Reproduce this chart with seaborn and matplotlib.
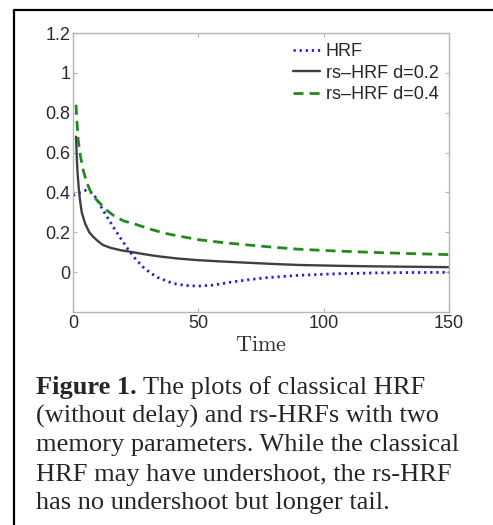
import numpy as np
import seaborn as sns
import matplotlib.pyplot as plt
from matplotlib.lines import Line2D

# values
t_hrf = [0, 2, 5, 8, 10, 12, 16, 19, 22, 25, 28, 31, 34, 40, 45, 50, 56, 63, 70, 77, 90, 105, 120, 135, 150]
hrf = [0.385, 0.395, 0.41, 0.395, 0.355, 0.31, 0.228, 0.17, 0.114, 0.065, 0.025, -0.005, -0.028, -0.057,
       -0.067, -0.07, -0.065, -0.05, -0.038, -0.028, -0.016, -0.008, -0.004, -0.002, -0.001]

t_d02 = [1.2, 1.5, 1.8, 2.3, 2.8, 3.5, 4.8, 6.5, 8, 10, 12, 15, 19, 23, 27, 31, 35, 42, 50, 60, 70, 80, 90,
         105, 120, 135, 150]
rs_d02 = [0.68, 0.58, 0.50, 0.42, 0.36, 0.30, 0.245, 0.20, 0.178, 0.155, 0.136, 0.122, 0.11, 0.102, 0.093,
          0.085, 0.078, 0.068, 0.06, 0.053, 0.047, 0.041, 0.036, 0.032, 0.029, 0.027, 0.025]

t_d04 = [1.2, 1.6, 2.1, 3, 4.1, 5.5, 6.8, 8.5, 10.8, 13, 16, 20, 25, 31, 37, 44, 50, 60, 70, 80, 90, 105, 120,
         135, 150]
rs_d04 = [0.84, 0.75, 0.66, 0.58, 0.51, 0.45, 0.41, 0.375, 0.345, 0.315, 0.286, 0.258, 0.24, 0.215, 0.194,
          0.177, 0.163, 0.148, 0.136, 0.125, 0.115, 0.106, 0.099, 0.093, 0.088]

labels = ["HRF", "rs\u2013HRF d=0.2", "rs\u2013HRF d=0.4"]
x_ticks = [0, 50, 100, 150]
y_ticks = [0, 0.2, 0.4, 0.6, 0.8, 1, 1.2]
y_ticklabels = ["0", "0.2", "0.4", "0.6", "0.8", "1", "1.2"]

caption_bold = "Figure 1."
caption_lines = ["The plots of classical HRF",
                 "(without delay) and rs-HRFs with two",
                 "memory parameters. While the classical",
                 "HRF may have undershoot, the rs-HRF",
                 "has no undershoot but longer tail."]

sns.set_style("ticks")
plt.rcParams['font.family'] = ['Liberation Sans', 'DejaVu Sans']
plt.rcParams['mathtext.fontset'] = 'cm'

W, H = 493, 525
fig = plt.figure(figsize=(W / 100, H / 100), dpi=100)
ax = fig.add_axes([73 / W, 1 - 312 / H, 376 / W, 279 / H])

sns.lineplot(x=t_hrf, y=hrf, ax=ax, color='#1f1fe0', lw=2.0, linestyle=(0, (0.8, 1.4)), label=labels[0])
sns.lineplot(x=t_d02, y=rs_d02, ax=ax, color='#404040', lw=1.7, label=labels[1])
sns.lineplot(x=t_d04, y=rs_d04, ax=ax, color='#1f8a1f', lw=2.0, linestyle=(0, (3.6, 2.2)), label=labels[2])

ax.set_xlim(0, 150)
ax.set_ylim(-0.2, 1.2)
ax.set_xticks(x_ticks)
ax.set_yticks(y_ticks)
ax.set_yticklabels(y_ticklabels)
ax.tick_params(direction='in', length=3, width=0.8, color='#b5b5b5', labelsize=13,
               labelcolor='#2a2a2a', top=True, right=True)
ax.tick_params(axis='x', pad=2)
ax.tick_params(axis='y', pad=2)
for s in ax.spines.values():
    s.set_visible(True)
    s.set_color('#b5b5b5')
    s.set_linewidth(1.0)

ax.set_xlabel(r'$\mathrm{Time}$', fontsize=16, color='#333333', labelpad=2)
ax.set_ylabel('')

ax.legend(loc='upper left', bbox_to_anchor=((293 - 73) / 376, (312 - 43) / 279), frameon=False,
          fontsize=13, handlelength=1.5, handletextpad=0.3, labelspacing=0.26,
          borderpad=0, borderaxespad=0)

# frame around the figure panel (only top and left edges visible)
fig.add_artist(Line2D([14 / W, 1], [1 - 10 / H, 1 - 10 / H], transform=fig.transFigure, color='black', lw=1.6))
fig.add_artist(Line2D([14 / W, 14 / W], [1 - 10 / H, 0], transform=fig.transFigure, color='black', lw=1.6))

# caption
baselines = [394, 422.5, 451.5, 480.5, 509.5]
fig.text(36 / W, 1 - baselines[0] / H, caption_bold, fontsize=19, fontweight='bold',
         family='Liberation Serif', va='baseline')
fig.text(143 / W, 1 - baselines[0] / H, caption_lines[0], fontsize=19, family='Liberation Serif', va='baseline')
for yb, line in zip(baselines[1:], caption_lines[1:]):
    fig.text(36 / W, 1 - yb / H, line, fontsize=19, family='Liberation Serif', va='baseline')

fig.savefig('out.png', dpi=100)
